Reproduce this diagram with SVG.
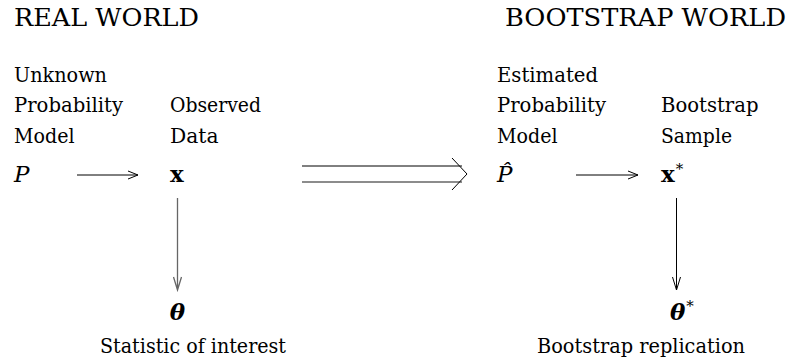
<svg xmlns="http://www.w3.org/2000/svg" width="788" height="362" viewBox="0 0 788 362">
  <style>
    text { font-family: "DejaVu Serif", "Liberation Serif", "Times New Roman", serif; fill: #000; }
    .h { font-size: 24px; }
    .t { font-size: 20px; }
    .mi { font-size: 23px; font-style: italic; }
    .bx { font-size: 23px; font-weight: bold; }
    .bi { font-size: 23px; font-weight: bold; font-style: italic; }
    .sup { font-size: 15px; font-weight: normal; font-style: normal; }
    .ln { stroke: #000; stroke-width: 1; fill: none; }
    .gr { stroke: #666; stroke-width: 1.3; fill: none; }
  </style>
  <g id="headings">
    <text class="h" x="14" y="26" textLength="185" lengthAdjust="spacingAndGlyphs">REAL WORLD</text>
    <text class="h" x="505" y="26" textLength="281" lengthAdjust="spacingAndGlyphs">BOOTSTRAP WORLD</text>
  </g>
  <g id="node-P">
    <text class="t" x="14" y="81.5" textLength="93" lengthAdjust="spacingAndGlyphs">Unknown</text>
    <text class="t" x="14" y="112" textLength="109" lengthAdjust="spacingAndGlyphs">Probability</text>
    <text class="t" x="14" y="143" textLength="60.5" lengthAdjust="spacingAndGlyphs">Model</text>
    <text class="mi" x="14" y="182">P</text>
  </g>
  <g id="node-x">
    <text class="t" x="170" y="112" textLength="91" lengthAdjust="spacingAndGlyphs">Observed</text>
    <text class="t" x="170" y="143" textLength="48.5" lengthAdjust="spacingAndGlyphs">Data</text>
    <text class="bx" x="170" y="182">x</text>
  </g>
  <g id="node-theta">
    <text class="bi" x="177.5" y="320" text-anchor="middle">θ</text>
    <text class="t" x="100" y="353" textLength="186" lengthAdjust="spacingAndGlyphs">Statistic of interest</text>
  </g>
  <g id="node-Phat">
    <text class="t" x="497" y="81.5" textLength="101" lengthAdjust="spacingAndGlyphs">Estimated</text>
    <text class="t" x="497" y="112" textLength="109" lengthAdjust="spacingAndGlyphs">Probability</text>
    <text class="t" x="497" y="143" textLength="60.5" lengthAdjust="spacingAndGlyphs">Model</text>
    <text class="mi" x="497" y="182">P̂</text>
  </g>
  <g id="node-xstar">
    <text class="t" x="661" y="112" textLength="97.5" lengthAdjust="spacingAndGlyphs">Bootstrap</text>
    <text class="t" x="661" y="143" textLength="71" lengthAdjust="spacingAndGlyphs">Sample</text>
    <text class="bx" x="661" y="182">x<tspan class="sup" dx="1" dy="-8">*</tspan></text>
  </g>
  <g id="node-thetastar">
    <text class="bi" x="670" y="320">θ<tspan class="sup" dx="1" dy="-9">*</tspan></text>
    <text class="t" x="537" y="353" textLength="208" lengthAdjust="spacingAndGlyphs">Bootstrap replication</text>
  </g>
  <g id="connectors">
    <path class="ln" d="M77 175 H138 M128 171 L138 175 L128 179"/>
    <path class="ln" d="M576 175 H638 M628 171 L638 175 L628 179"/>
    <path class="gr" d="M177.5 198 V290 M173.5 277 L177.5 290 L181.5 277"/>
    <path class="ln" d="M676.5 198 V290 M672.5 277 L676.5 290 L680.5 277"/>
    <path class="ln" d="M302 166 H462"/>
    <path class="gr" d="M302 182 H462"/>
    <path class="ln" d="M452 158 L467 174 L452 190"/>
  </g>
</svg>
